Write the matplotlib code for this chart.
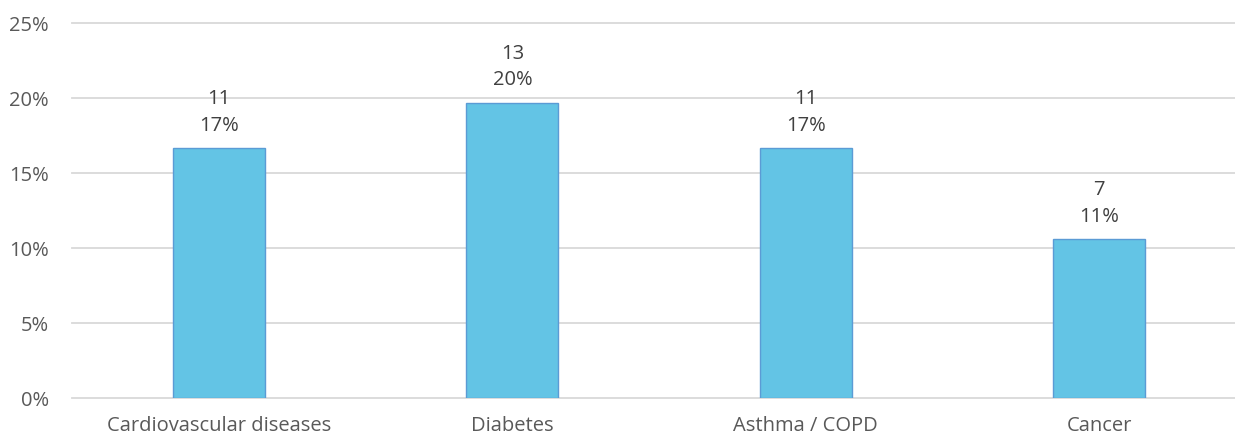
import matplotlib
matplotlib.use('Agg')
import matplotlib.pyplot as plt
from matplotlib.ticker import FuncFormatter

# Data
categories = ['Cardiovascular diseases', 'Diabetes', 'Asthma / COPD', 'Cancer']
counts = [11, 13, 11, 7]
total = 66
shares = [c / total * 100 for c in counts]

plt.rcParams['font.family'] = ['Open Sans', 'DejaVu Sans']
textColor = '#595959'

fig = plt.figure(figsize=(12.35, 4.37), dpi=100, facecolor='white')
ax = fig.add_axes([72.3 / 1235, 38.7 / 437, 1173.4 / 1235, 375.0 / 437])

x = range(len(categories))
ax.bar(x, shares, width=0.314, color='#63C4E5', edgecolor='#5B9BD5', linewidth=1.0, zorder=3)

# Labels above bars
for i in x:
    ax.annotate('{}\n{:.0f}%'.format(counts[i], shares[i]), (i, shares[i]),
                xytext=(0, 9), textcoords='offset points', ha='center', va='bottom',
                fontsize=14.5, color='#404040', linespacing=1.45)

ax.set_xlim(-0.5, 3.5)
ax.set_ylim(0, 25)
ax.set_yticks([0, 5, 10, 15, 20, 25])
ax.yaxis.set_major_formatter(FuncFormatter(lambda v, p: '{:.0f}%'.format(v)))
ax.set_xticks(list(x))
ax.set_xticklabels(categories)
ax.grid(axis='y', color='#D9D9D9', linewidth=1.3, zorder=0)
for line in ax.get_ygridlines():
    line.set_clip_on(False)
for s in ax.spines.values():
    s.set_visible(False)
ax.tick_params(axis='both', length=0, labelsize=14.5, colors=textColor)
ax.tick_params(axis='y', pad=17)
ax.tick_params(axis='x', pad=13)

plt.savefig('out.png', dpi=100, facecolor='white')
